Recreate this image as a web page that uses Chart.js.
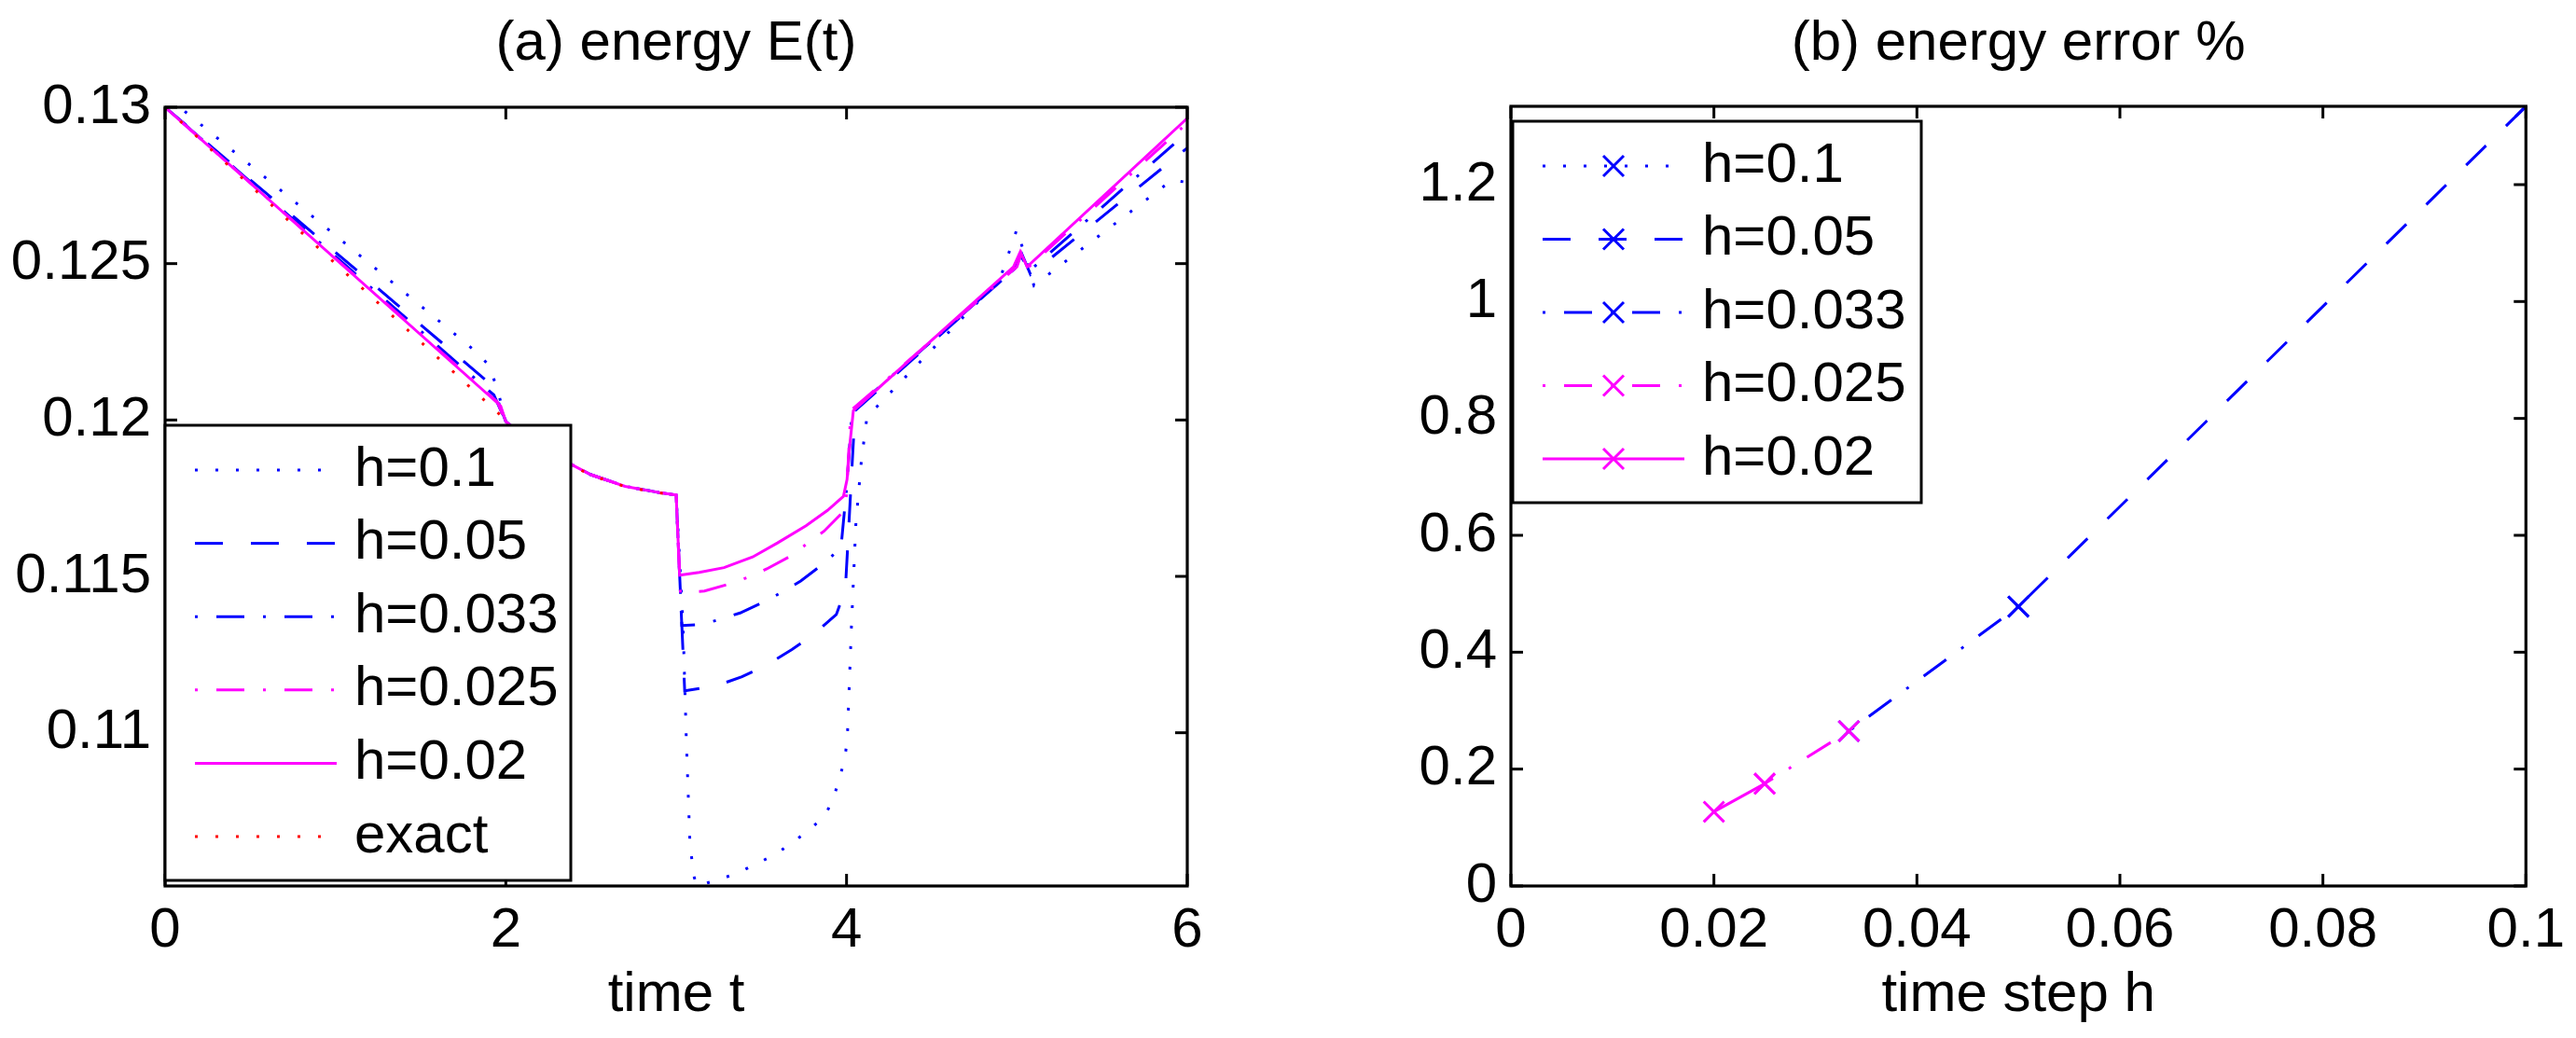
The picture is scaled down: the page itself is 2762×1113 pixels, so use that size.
<!DOCTYPE html>
<html><head><meta charset="utf-8">
<script src="https://cdn.jsdelivr.net/npm/chart.js@4.4.1/dist/chart.umd.min.js"></script>
<style>
html,body{margin:0;padding:0;background:#fff;width:2762px;height:1113px;overflow:hidden}
#c1{position:absolute;left:0;top:0}
#c2{position:absolute;left:1381px;top:0}
</style></head><body>
<canvas id="c1" width="1381" height="1113"></canvas>
<canvas id="c2" width="1381" height="1113"></canvas>
<script>
// ---------- Panel (a): energy E(t) ----------
const labelsA = ['h=0.1', 'h=0.05', 'h=0.033', 'h=0.025', 'h=0.02', 'exact'];
const t_h1 = [0, 0.1, 0.97, 1.74, 1.84, 1.9, 1.95, 2.0, 2.1, 2.3, 2.5, 2.7, 2.9, 3.0, 3.04, 3.06, 3.08, 3.1, 3.12, 3.235, 3.355, 3.465, 3.578, 3.679, 3.779, 3.873, 3.923, 3.961, 3.992, 4.005, 4.028, 4.055, 4.087, 4.12, 4.9, 5.0, 5.1, 5.91, 6.0];
const E_h1 = [0.13, 0.12994, 0.12604, 0.12257, 0.12211, 0.12175, 0.121, 0.11995, 0.1195, 0.11882, 0.11825, 0.11788, 0.11768, 0.1176, 0.1135, 0.1097, 0.1066, 0.1055, 0.1051, 0.10528, 0.1055, 0.10579, 0.1061, 0.10647, 0.10689, 0.10734, 0.10791, 0.10858, 0.10923, 0.1099, 0.1133, 0.1167, 0.1187, 0.1201, 0.1245, 0.1261, 0.1243, 0.12767, 0.1276];
const t_h05 = [0, 1.92, 2.0, 2.1, 2.3, 2.5, 2.7, 2.9, 3.0, 3.05, 3.229, 3.386, 3.532, 3.679, 3.804, 3.94, 3.993, 4.05, 4.98, 5.03, 5.08, 6.0];
const E_h05 = [0.13, 0.1211, 0.11995, 0.1195, 0.11882, 0.11825, 0.11788, 0.11768, 0.1176, 0.11134, 0.11149, 0.11179, 0.11217, 0.11266, 0.11313, 0.11378, 0.11458, 0.1203, 0.1248, 0.1253, 0.12465, 0.1287];
const t_h033 = [0, 1.93, 2.0, 2.1, 2.3, 2.5, 2.7, 2.9, 3.0, 3.033, 3.146, 3.261, 3.375, 3.522, 3.626, 3.731, 3.856, 3.95, 3.967, 4.0, 4.033, 4.99, 5.02, 5.07, 6.0];
const E_h033 = [0.13, 0.1208, 0.11995, 0.1195, 0.11882, 0.11825, 0.11788, 0.11768, 0.1176, 0.11343, 0.11346, 0.11363, 0.11383, 0.1142, 0.11451, 0.11485, 0.11537, 0.11582, 0.1159, 0.1178, 0.1203, 0.12485, 0.1253, 0.12475, 0.1292];
const t_h025 = [0, 1.95, 2.0, 2.1, 2.3, 2.5, 2.7, 2.9, 3.0, 3.025, 3.166, 3.313, 3.428, 3.532, 3.679, 3.773, 3.867, 3.982, 4.0, 4.025, 5.0, 5.025, 5.05, 6.0];
const E_h025 = [0.13, 0.12058, 0.11995, 0.1195, 0.11882, 0.11825, 0.11788, 0.11768, 0.1176, 0.11448, 0.11453, 0.11476, 0.11498, 0.11524, 0.11567, 0.11607, 0.11644, 0.11707, 0.1176, 0.1203, 0.1249, 0.1253, 0.1248, 0.1295];
const t_h02 = [0, 1.97, 2.0, 2.1, 2.3, 2.5, 2.7, 2.9, 3.0, 3.02, 3.135, 3.281, 3.449, 3.595, 3.762, 3.888, 3.982, 4.003, 4.017, 4.04, 4.98, 5.02, 5.06, 6.0];
const E_h02 = [0.13, 0.12045, 0.11995, 0.1195, 0.11882, 0.11825, 0.11788, 0.11768, 0.1176, 0.11504, 0.11513, 0.11528, 0.11562, 0.11607, 0.11662, 0.11711, 0.11756, 0.1181, 0.1191, 0.1203, 0.1249, 0.12538, 0.1249, 0.12965];
const t_exact = [0, 2.0, 2.1, 2.3, 2.5, 2.7, 2.9, 3.0];
const E_exact = [0.13, 0.12, 0.11948, 0.1188, 0.11823, 0.11787, 0.11767, 0.1176];
const xTicksA = [0, 2, 4, 6];
const xTickLabelsA = ['0', '2', '4', '6'];
const yTicksA = [0.11, 0.115, 0.12, 0.125, 0.13];
const yTickLabelsA = ['0.11', '0.115', '0.12', '0.125', '0.13'];
const titleA = '(a) energy E(t)';
const xTitleA = 'time t';

// ---------- Panel (b): energy error % ----------
const labelsB = ['h=0.1', 'h=0.05', 'h=0.033', 'h=0.025', 'h=0.02'];
const hStep = [0.1, 0.05, 0.0333, 0.025, 0.02];
const errPct = [1.334, 0.478, 0.265, 0.175, 0.127];
const xTicksB = [0, 0.02, 0.04, 0.06, 0.08, 0.1];
const xTickLabelsB = ['0', '0.02', '0.04', '0.06', '0.08', '0.1'];
const yTicksB = [0, 0.2, 0.4, 0.6, 0.8, 1, 1.2];
const yTickLabelsB = ['0', '0.2', '0.4', '0.6', '0.8', '1', '1.2'];
const titleB = '(b) energy error %';
const xTitleB = 'time step h';

// ---------- styles ----------
const BLUE = '#0000ff', MAG = '#ff00ff', RED = '#ff0000';
const FONT = 'Liberation Sans, Arial, Helvetica, sans-serif';
const DOT = [3, 19], DASH = [30, 30], DASHDOT = [3, 20, 30, 20];
const stylesA = [
  {c: BLUE, d: DOT}, {c: BLUE, d: DASH}, {c: BLUE, d: DASHDOT},
  {c: MAG, d: DASHDOT}, {c: MAG, d: []}, {c: RED, d: DOT}
];
const stylesB = stylesA.slice(0, 5);

function pts(xs, ys) { return xs.map((x, i) => ({x: x, y: ys[i]})); }

const seriesA = [[t_h1, E_h1], [t_h05, E_h05], [t_h033, E_h033], [t_h025, E_h025], [t_h02, E_h02], [t_exact, E_exact]];
const dsA = seriesA.map((s, i) => ({
  label: labelsA[i], data: pts(s[0], s[1]), showLine: true, tension: 0,
  borderColor: stylesA[i].c, borderDash: stylesA[i].d, borderWidth: 3,
  borderCapStyle: 'butt', pointRadius: 0, order: seriesA.length - i
}));

const dsB = hStep.map((h, i) => {
  const idx = i === 0 ? [0] : [i - 1, i];
  return {
    label: labelsB[i], data: idx.map(k => ({x: hStep[k], y: errPct[k]})), showLine: true, tension: 0,
    borderColor: stylesB[i].c, borderDash: stylesB[i].d, borderWidth: 3, borderCapStyle: 'butt',
    pointStyle: 'crossRot', pointRadius: 15.5, pointBorderWidth: 3, pointBorderColor: stylesB[i].c,
    pointBackgroundColor: stylesB[i].c, order: hStep.length - i, marker: true
  };
});

function drawLine(ctx, x0, y0, x1, y1) { ctx.beginPath(); ctx.moveTo(x0, y0); ctx.lineTo(x1, y1); ctx.stroke(); }

const matlabFrame = {
  id: 'matlabFrame',
  afterDatasetsDraw(chart, args, o) {
    const {ctx, chartArea: a, scales} = chart;
    ctx.save();
    ctx.strokeStyle = '#000'; ctx.setLineDash([]); ctx.lineCap = 'butt';
    ctx.lineWidth = 3;
    const L = 13;
    scales.x.ticks.forEach(t => { const x = scales.x.getPixelForValue(t.value);
      drawLine(ctx, x, a.bottom, x, a.bottom - L); drawLine(ctx, x, a.top, x, a.top + L); });
    scales.y.ticks.forEach(t => { const y = scales.y.getPixelForValue(t.value);
      drawLine(ctx, a.left, y, a.left + L, y); drawLine(ctx, a.right, y, a.right - L, y); });
    ctx.lineWidth = 3.2;
    ctx.strokeRect(a.left, a.top, a.right - a.left, a.bottom - a.top);
    // title
    ctx.fillStyle = '#000'; ctx.font = o.titleSize + 'px ' + FONT;
    ctx.textAlign = 'center'; ctx.textBaseline = 'alphabetic';
    ctx.fillText(o.title, (a.left + a.right) / 2, o.titleBaseline);
    // legend
    const g = o.legend;
    ctx.fillStyle = '#fff';
    ctx.fillRect(g.left, g.top, g.right - g.left, g.bottom - g.top);
    ctx.lineWidth = 3; ctx.strokeStyle = '#000';
    ctx.strokeRect(g.left, g.top, g.right - g.left, g.bottom - g.top);
    chart.data.datasets.forEach((ds, i) => {
      const y = g.row0 + i * g.rowGap;
      const x0 = g.left + 32, x1 = g.left + 184;
      ctx.strokeStyle = ds.borderColor; ctx.lineWidth = 3;
      ctx.setLineDash(ds.borderDash); ctx.lineDashOffset = 0;
      drawLine(ctx, x0, y, x1, y);
      ctx.setLineDash([]);
      if (ds.marker) {
        const xm = (x0 + x1) / 2, r = 11;
        drawLine(ctx, xm - r, y - r, xm + r, y + r); drawLine(ctx, xm - r, y + r, xm + r, y - r);
      }
      ctx.fillStyle = '#000'; ctx.font = '60px ' + FONT;
      ctx.textAlign = 'left'; ctx.textBaseline = 'middle';
      ctx.fillText(ds.label, g.left + 203, y);
    });
    ctx.restore();
  }
};

function makeOpts(cfg) {
  return {
    responsive: false, animation: false, events: [],
    layout: {padding: {left: 0, top: cfg.top, right: cfg.right, bottom: 0}},
    plugins: {legend: {display: false}, tooltip: {enabled: false}, title: {display: false},
      matlabFrame: {title: cfg.title, titleSize: 60, titleBaseline: 64, legend: cfg.legend}},
    scales: {
      x: {type: 'linear', position: 'bottom', min: cfg.xmin, max: cfg.xmax,
        grid: {display: false, drawTicks: false}, border: {display: false},
        afterBuildTicks: s => { s.ticks = cfg.xt.map(v => ({value: v})); },
        afterFit: s => { s.height = 163; },
        ticks: {autoSkip: false, maxRotation: 0, padding: 12, color: '#000',
          font: {family: FONT, size: 60}, callback: (v, i) => cfg.xl[i]},
        title: {display: true, text: cfg.xtitle, color: '#000', font: {family: FONT, size: 60},
          padding: {top: 0, bottom: 10}}},
      y: {type: 'linear', position: 'left', min: cfg.ymin, max: cfg.ymax,
        grid: {display: false, drawTicks: false}, border: {display: false},
        afterBuildTicks: s => { s.ticks = cfg.yt.map(v => ({value: v})); },
        afterFit: s => { s.width = cfg.left; },
        ticks: {autoSkip: false, padding: 15, color: '#000',
          font: {family: FONT, size: 60}, callback: (v, i) => cfg.yl[i]}}
    }
  };
}

new Chart(document.getElementById('c1'), {
  type: 'scatter', data: {datasets: dsA}, plugins: [matlabFrame],
  options: makeOpts({top: 115, right: 108, left: 177, xmin: 0, xmax: 6, ymin: 0.1051, ymax: 0.13,
    xt: xTicksA, xl: xTickLabelsA, yt: yTicksA, yl: yTickLabelsA, xtitle: xTitleA, title: titleA,
    legend: {left: 177, top: 456, right: 612, bottom: 944, row0: 504, rowGap: 78.6}})
});
new Chart(document.getElementById('c2'), {
  type: 'scatter', data: {datasets: dsB}, plugins: [matlabFrame],
  options: makeOpts({top: 114, right: 45, left: 239, xmin: 0, xmax: 0.1, ymin: 0, ymax: 1.334,
    xt: xTicksB, xl: xTickLabelsB, yt: yTicksB, yl: yTickLabelsB, xtitle: xTitleB, title: titleB,
    legend: {left: 241, top: 130, right: 679, bottom: 539, row0: 178, rowGap: 78.5}})
});
</script>
</body></html>
